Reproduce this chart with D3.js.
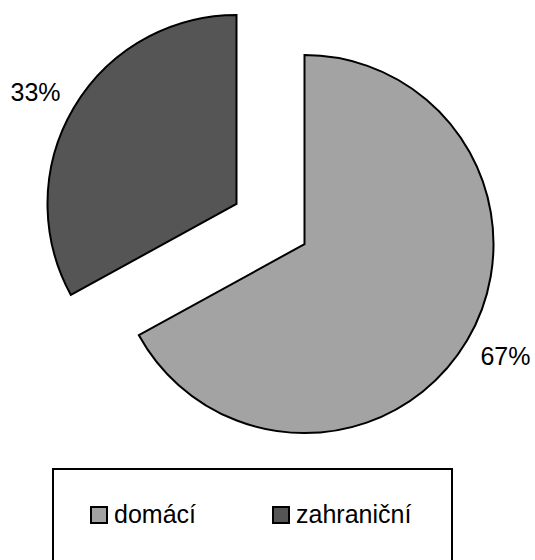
<!DOCTYPE html>
<html>
<head>
<meta charset="utf-8">
<script src="https://cdn.jsdelivr.net/npm/d3@7"></script>
<style>
  body { margin: 0; background: #fff; }
  svg { display: block; }
</style>
</head>
<body>
<div id="chart"></div>
<script>
const categories = ["domácí", "zahraniční"];
const values = [67, 33];
const colors = ["#a3a3a3", "#555555"];

const width = 535, height = 560;
const cx = 270.5, cy = 224, radius = 189, explode = 39.5, labelRadius = 230;
const labelTurn = -0.026; // labels sit slightly anticlockwise of the mid-angle

const svg = d3.select("#chart")
  .append("svg")
  .attr("width", width)
  .attr("height", height);

const data = categories.map((c, i) => ({ name: c, value: values[i], color: colors[i] }));
const pie = d3.pie().sort(null).value(d => d.value);
const arc = d3.arc().innerRadius(0).outerRadius(radius);
const total = d3.sum(values);
const midAngle = d => (d.startAngle + d.endAngle) / 2;

const slices = svg.append("g")
  .attr("transform", `translate(${cx}, ${cy})`)
  .selectAll("g")
  .data(pie(data))
  .enter()
  .append("g")
  .attr("transform", d => `translate(${Math.sin(midAngle(d)) * explode}, ${-Math.cos(midAngle(d)) * explode})`);

slices.append("path")
  .attr("d", arc)
  .attr("fill", d => d.data.color)
  .attr("stroke", "#000")
  .attr("stroke-width", 2)
  .attr("stroke-linejoin", "miter");

slices.append("text")
  .attr("x", d => Math.sin(midAngle(d) + labelTurn) * labelRadius)
  .attr("y", d => -Math.cos(midAngle(d) + labelTurn) * labelRadius)
  .attr("text-anchor", "middle")
  .attr("dominant-baseline", "central")
  .attr("font-family", "Liberation Sans, Arial, sans-serif")
  .attr("font-size", "25px")
  .attr("fill", "#000")
  .text(d => Math.round(d.data.value / total * 100) + "%");

// legend
const legend = svg.append("g");
legend.append("rect")
  .attr("x", 53)
  .attr("y", 469)
  .attr("width", 399)
  .attr("height", 200)
  .attr("fill", "none")
  .attr("stroke", "#000")
  .attr("stroke-width", 2);

const legendX = [90, 272];
const items = legend.selectAll(".item")
  .data(data)
  .enter()
  .append("g")
  .attr("class", "item")
  .attr("transform", (d, i) => `translate(${legendX[i]}, 506)`);

items.append("rect")
  .attr("x", 1)
  .attr("y", 1)
  .attr("width", 16)
  .attr("height", 16)
  .attr("fill", d => d.color)
  .attr("stroke", "#000")
  .attr("stroke-width", 2);

items.append("text")
  .attr("x", 24)
  .attr("y", 17)
  .attr("font-family", "Liberation Sans, Arial, sans-serif")
  .attr("font-size", "25px")
  .attr("fill", "#000")
  .text(d => d.name);
</script>
</body>
</html>
